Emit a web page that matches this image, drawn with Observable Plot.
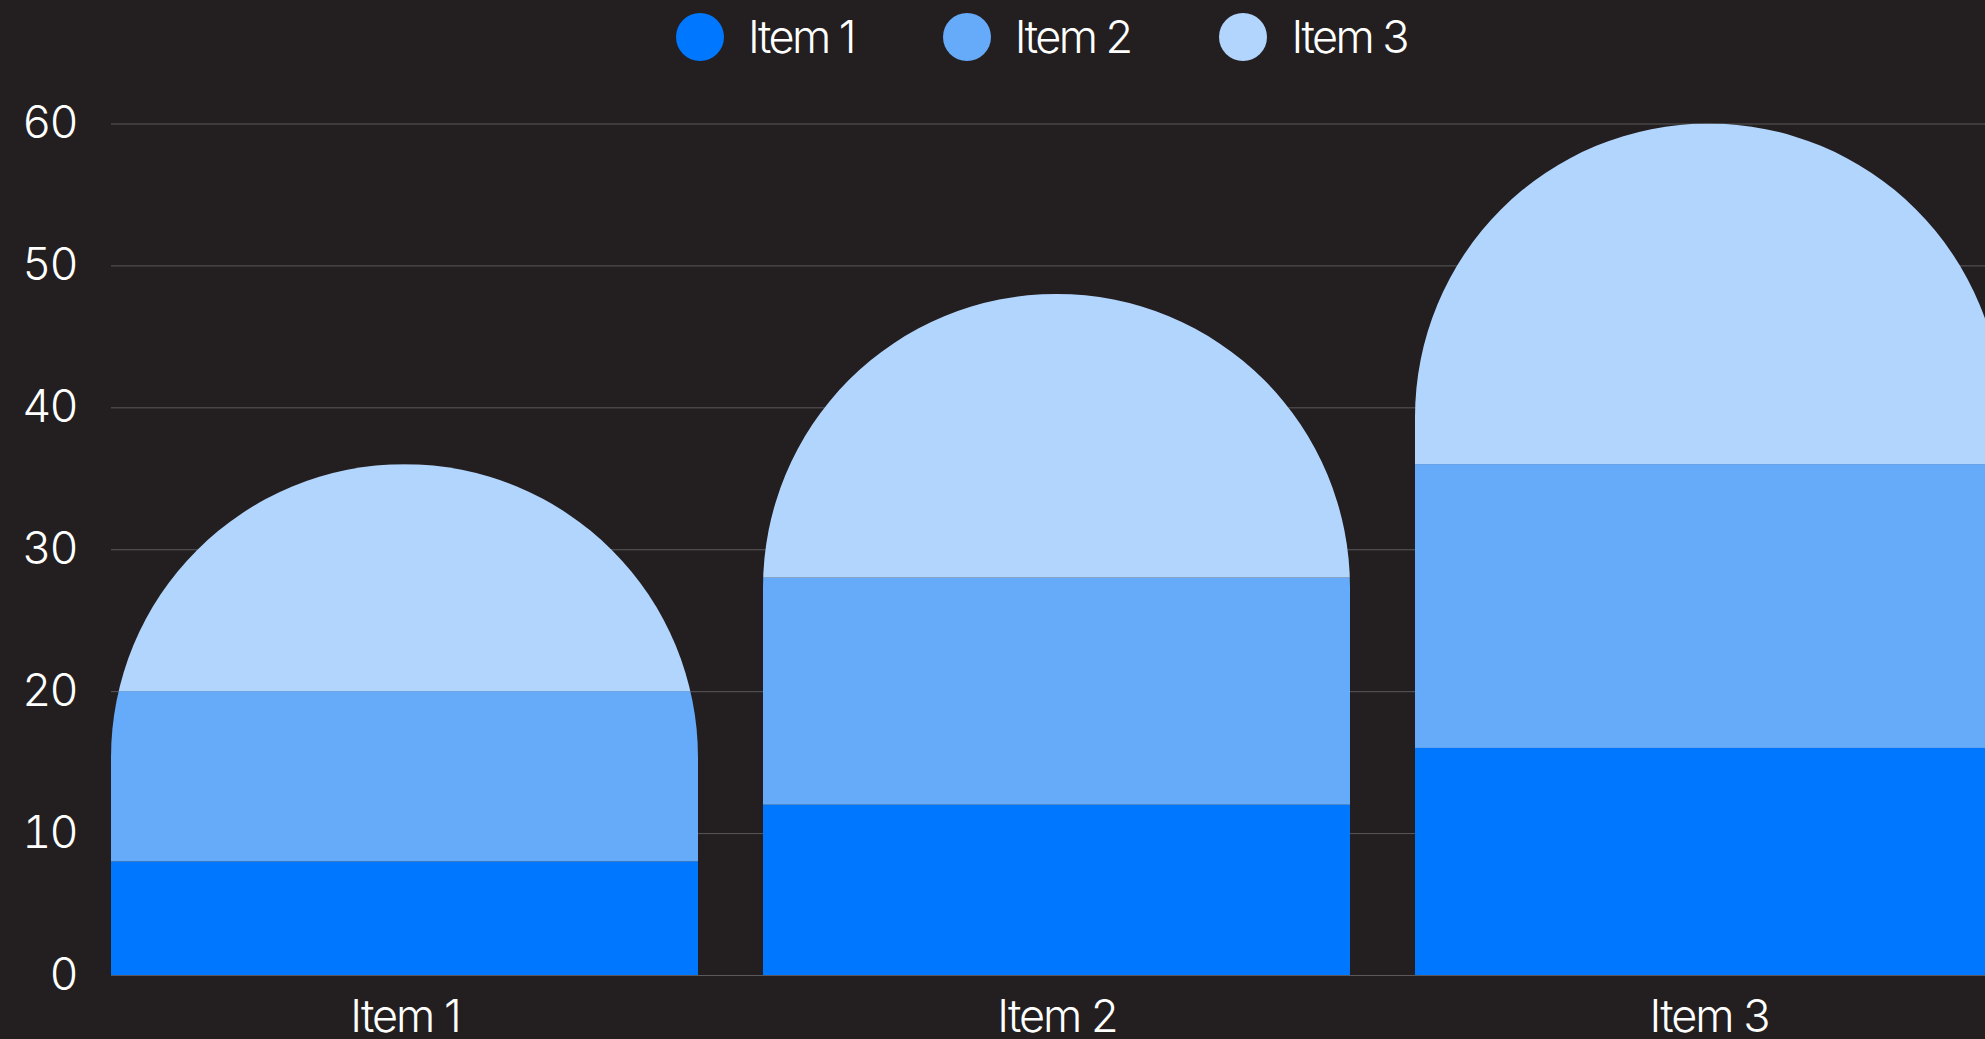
<!DOCTYPE html>
<html>
<head>
<meta charset="utf-8">
<script src="https://cdn.jsdelivr.net/npm/d3@7"></script>
<script src="https://cdn.jsdelivr.net/npm/@observablehq/plot@0.6"></script>
<style>
  html, body { margin: 0; padding: 0; background: #231f20; overflow: hidden; width: 1985px; height: 1039px; }
  #wrap { position: relative; width: 2002px; }
  #legend { position: relative; height: 74px; }
  #legend .items { position: absolute; left: 676px; top: 13px; display: flex; gap: 89px; align-items: center; }
  #legend .item { display: flex; align-items: center; gap: 24px; }
  #legend .sw { width: 48px; height: 48px; border-radius: 50%; }
  #legend .lbl { color: #fff; font-family: Inter, "Liberation Sans", sans-serif; font-weight: 300; font-size: 45px; letter-spacing: -2.6px; line-height: 48px; }
</style>
</head>
<body>
<div id="wrap">
  <div id="legend"><div class="items"></div></div>
  <div id="chart"></div>
</div>
<script>
const categories = ["Item 1", "Item 2", "Item 3"];
const series = ["Item 1", "Item 2", "Item 3"];
const item1Values = [8, 12, 16];
const item2Values = [12, 16, 20];
const item3Values = [16, 20, 24];
const yTicks = [0, 10, 20, 30, 40, 50, 60];
const colors = ["#0077FF", "#66AAFA", "#B2D5FE"];

const seriesValues = [item1Values, item2Values, item3Values];
const rows = [];
series.forEach((s, si) => categories.forEach((c, ci) => rows.push({category: c, series: s, value: seriesValues[si][ci]})));

const plot = Plot.plot({
  width: 2002,
  height: 965,
  marginTop: 49.5,
  marginBottom: 64,
  marginLeft: 111,
  marginRight: 0,
  style: {background: "transparent", color: "#ffffff", fontFamily: "Inter, 'Liberation Sans', sans-serif", fontSize: "45px", fontWeight: 300, letterSpacing: "-2px"},
  x: {domain: categories, paddingInner: 0.1, paddingOuter: 0, label: null, tickSize: 0, tickPadding: 25},
  y: {domain: [0, 60], ticks: yTicks, label: null, tickSize: 0, tickPadding: 35},
  color: {domain: series, range: colors},
  marks: [
    Plot.gridY(yTicks, {stroke: "#5a5859", strokeOpacity: 1}),
    Plot.barY(rows, {x: "category", y: "value", fill: "series"})
  ]
});
document.getElementById("chart").appendChild(plot);

// rounded (semicircular) tops clipping each whole stack
const xs = plot.scale("x"), ys = plot.scale("y");
const ns = "http://www.w3.org/2000/svg";
const defs = document.createElementNS(ns, "defs");
plot.insertBefore(defs, plot.firstChild);
const totals = categories.map((c, ci) => seriesValues.reduce((a, arr) => a + arr[ci], 0));
categories.forEach((c, ci) => {
  const x0 = xs.apply(c), w = xs.bandwidth, x1 = x0 + w, r = w / 2;
  const yTop = ys.apply(totals[ci]), yBot = ys.apply(0);
  const cp = document.createElementNS(ns, "clipPath");
  cp.setAttribute("id", "clip-" + ci);
  const p = document.createElementNS(ns, "path");
  p.setAttribute("d", `M${x0},${yBot + 1}V${yTop + r}A${r},${r} 0 0 1 ${x1},${yTop + r}V${yBot + 1}Z`);
  cp.appendChild(p);
  defs.appendChild(cp);
});
plot.querySelectorAll('g[aria-label="bar"] rect').forEach(rect => {
  const x = +rect.getAttribute("x");
  let best = 0, bd = Infinity;
  categories.forEach((c, ci) => { const d = Math.abs(xs.apply(c) - x); if (d < bd) { bd = d; best = ci; } });
  rect.setAttribute("clip-path", `url(#clip-${best})`);
});

// legend
const cs = plot.scale("color");
const items = document.querySelector("#legend .items");
series.forEach(s => {
  const it = document.createElement("div"); it.className = "item";
  const sw = document.createElement("div"); sw.className = "sw"; sw.style.background = cs.apply(s);
  const lb = document.createElement("span"); lb.className = "lbl"; lb.textContent = s;
  it.appendChild(sw); it.appendChild(lb); items.appendChild(it);
});
</script>
</body>
</html>
